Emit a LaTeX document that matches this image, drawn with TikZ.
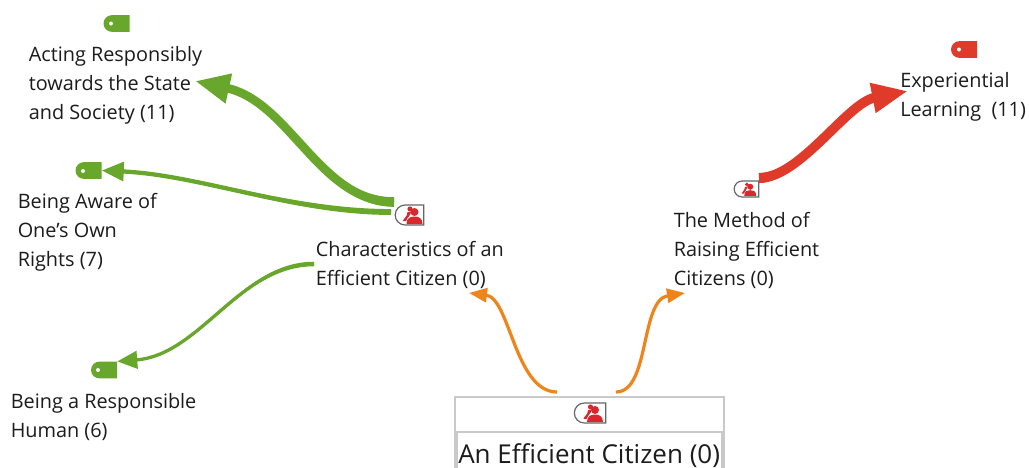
\documentclass[tikz,border=0pt]{standalone}
\usepackage{fontspec}
\setmainfont{Open Sans}
\usetikzlibrary{arrows.meta,shapes.misc,calc}
\definecolor{linkgreen}{HTML}{68A62C}
\definecolor{linkred}{HTML}{E03A2A}
\definecolor{linkorange}{HTML}{EE851C}
\definecolor{iconred}{HTML}{D9272E}
\definecolor{framegray}{HTML}{C9C9C9}
\definecolor{textblack}{HTML}{1C1C1C}
\tikzset{
    codelabel/.style={anchor=west,inner sep=0pt,align=left,text=textblack,font=\fontsize{14.9}{21.75}\selectfont},
    tagicon/.style={shape=rounded rectangle,rounded rectangle east arc=none,fill=#1,inner sep=0pt,minimum width=19.5pt,minimum height=12.5pt},
    usericon/.style={shape=rounded rectangle,rounded rectangle east arc=none,draw=black!60,line width=0.9pt,fill=white,inner sep=0pt},
    people/.pic={
        \fill[iconred] (5,-3) circle (4);
        \fill[iconred] (-3,9) .. controls (-3,3) and (1,1.5) .. (5,1.5) .. controls (9,1.5) and (13,3) .. (13,9) -- cycle;
        \fill[iconred] (0.5,-6) circle (2.6);
        \fill[iconred] (-6.5,6) .. controls (-6,3) and (-2,2) .. (-2,-3) -- (1.5,-3) .. controls (1.5,0) and (-2,2) .. (-3.5,6) -- cycle;
    }
}
% thicker start of a link, it runs out where the arrow head begins
\newcommand{\linkbody}[7]{
    \fill[#1] ([yshift=#6]#2) .. controls ([yshift=#6]#3) and ([yshift=0.35*#6]#4) .. ($(#5)!#7!(#4)$)
        .. controls ([yshift=-0.35*#6]#4) and ([yshift=-#6]#3) .. ([yshift=-#6]#2) -- cycle;
}
\begin{document}
\begin{tikzpicture}[x=0.75pt,y=-0.75pt]
\useasboundingbox (0,0) rectangle (1029,468);
\clip (0,0) rectangle (1029,468);
\fill[white] (0,0) rectangle (1029,468);

% Root box, runs off the bottom edge
\draw[framegray,line width=1.5pt] (455,397) rectangle (724,480);
\draw[framegray,line width=1.5pt] (457,432) rectangle (722,480);
\node[usericon,minimum width=23.5pt,minimum height=15pt] (rooticon) at (590,413) {};
\pic at (rooticon) {people};
\node[anchor=base west,inner sep=0pt,text=textblack,font=\fontsize{19.5}{24}\selectfont] (rootlabel) at (458,463) {An Efficient Citizen (0)};

% Icons
\node[usericon,minimum width=21.5pt,minimum height=15pt] (charicon) at (409.5,215) {};
\pic at (charicon) {people};
\node[usericon,minimum width=18.5pt,minimum height=12pt] (methodicon) at (746.5,189) {};
\pic[scale=0.75] at (methodicon) {people};
\node[tagicon=linkgreen] (actingtag) at (116.5,23.5) {};
\node[tagicon=linkgreen] (awaretag) at (88.5,170.5) {};
\node[tagicon=linkgreen] (humantag) at (104,370) {};
\node[tagicon=linkred] (learningtag) at (964,49.5) {};
\foreach \dotpos in {(111,23.5),(83,171),(98,370),(959,49.5)} {
    \fill[white] \dotpos circle (2);
}

\node[codelabel] (charlabel) at (315.5,265) {Characteristics of an\\Efficient Citizen (0)};

% Free ends of the links
\coordinate (charupper) at (394,202);
\coordinate (charlower) at (391,212);
\coordinate (charleft) at (314,264);
\coordinate (actingtip) at (195,81);
\coordinate (rootleft) at (557,392);
\coordinate (rootright) at (616,392);
\coordinate (charbottom) at (469,293);
\coordinate (methodbottom) at (685,293);
\coordinate (methodstart) at (759,178);
\coordinate (learningtip) at (908,91);

% Green links
\linkbody{linkgreen}{charupper}{320,202}{290,102}{actingtip}{3.6pt}{26pt}
\draw[linkgreen,line width=6.5pt,-{Triangle[length=26pt,width=21pt]}] (charupper) .. controls (320,202) and (290,102) .. (actingtip);
\linkbody{linkgreen}{charlower}{290,212}{200,175}{awaretag.east}{2.2pt}{16.5pt}
\draw[linkgreen,line width=3.2pt,-{Triangle[length=16.5pt,width=14pt]}] (charlower) .. controls (290,212) and (200,175) .. (awaretag.east);
\linkbody{linkgreen}{charleft}{240,264}{200,355}{humantag.north east}{1.7pt}{15pt}
\draw[linkgreen,line width=2.5pt,-{Triangle[length=15pt,width=13pt]}] (charleft) .. controls (240,264) and (200,355) .. (humantag.north east);

% Orange links
\draw[linkorange,line width=2.4pt,-{Triangle[length=13.5pt,width=10.5pt]}] (rootleft) .. controls (515,392) and (510,298) .. (charbottom);
\draw[linkorange,line width=2.4pt,-{Triangle[length=13.5pt,width=10.5pt]}] (rootright) .. controls (650,392) and (640,300) .. (methodbottom);

% Red link
\linkbody{linkred}{methodstart}{800,178}{847,103}{learningtip}{3.8pt}{27pt}
\draw[linkred,line width=7.2pt,-{Triangle[length=27pt,width=21pt]}] (methodstart) .. controls (800,178) and (847,103) .. (learningtip);

% Labels
\node[codelabel] (actinglabel) at (28.5,85) {Acting Responsibly\\towards the State\\and Society (11)};
\node[codelabel] (awarelabel) at (17.5,232) {Being Aware of\\One's Own\\Rights (7)};
\node[codelabel] (humanlabel) at (10.5,417) {Being a Responsible\\Human (6)};
\node[codelabel] (methodlabel) at (673.5,250) {The Method of\\Raising Efficient\\Citizens (0)};
\node[codelabel] (learninglabel) at (900,97) {Experiential\\Learning~ (11)};
\end{tikzpicture}
\end{document}
